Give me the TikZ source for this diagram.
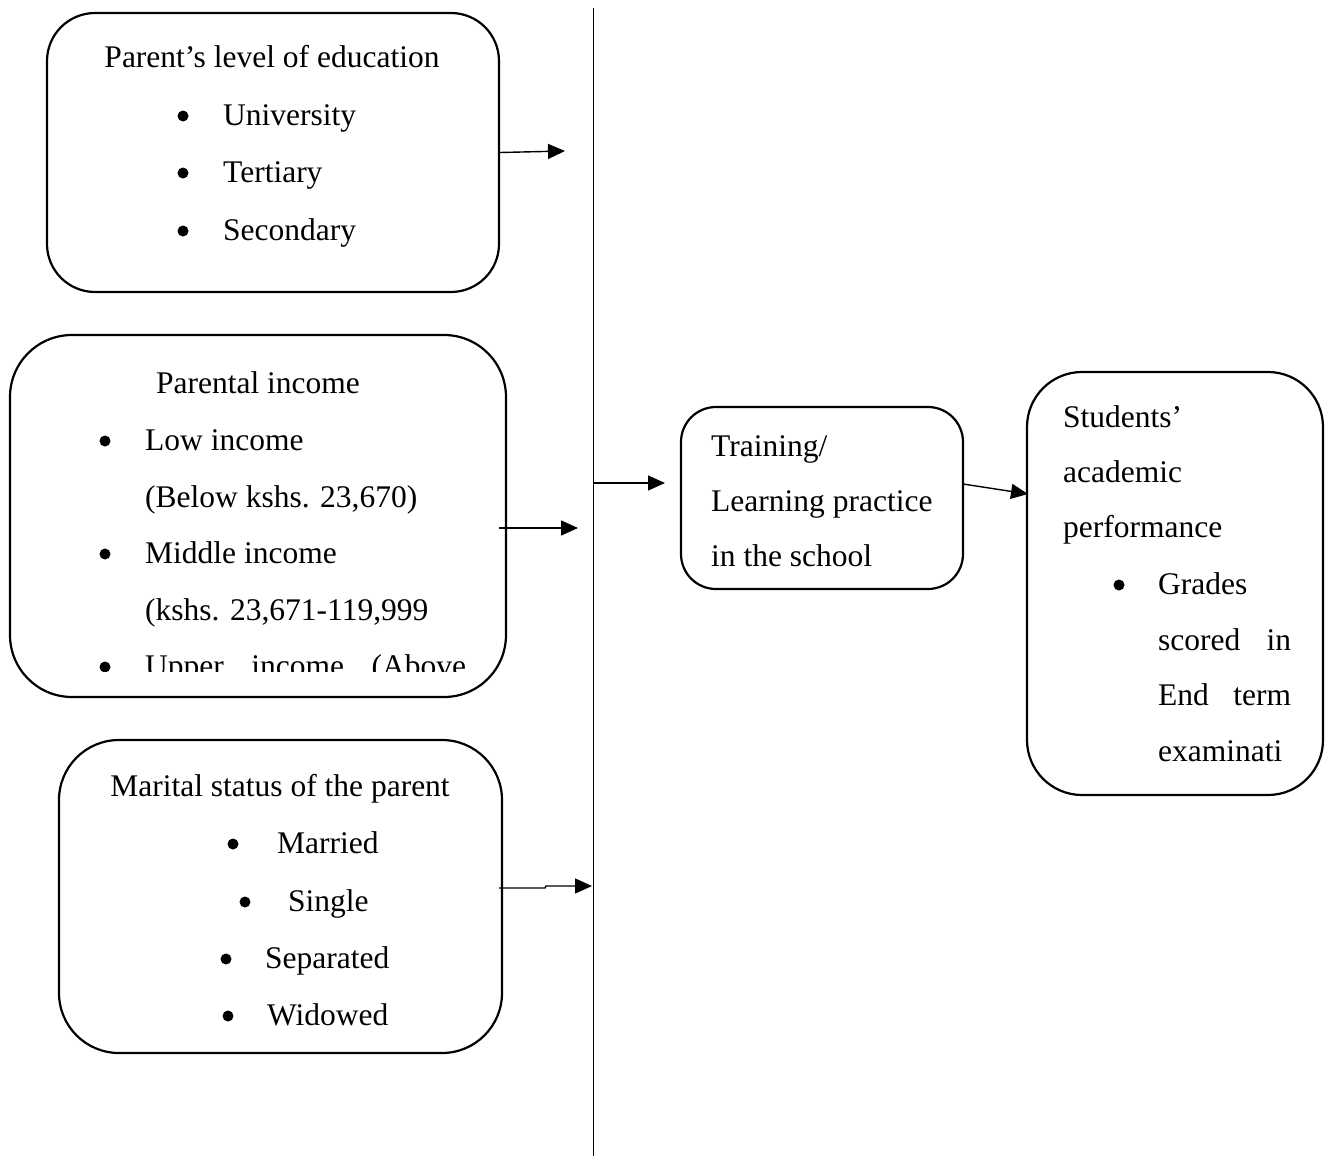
\documentclass[tikz,border=0pt]{standalone}
\usepackage{fontspec}
\setmainfont{Liberation Serif}
\usetikzlibrary{arrows.meta,calc}
\begin{document}
\begin{tikzpicture}[x=1pt,y=-1pt,
  box/.style={draw,line width=2.2pt,rounded corners=#1,inner sep=0pt},
  txt/.style={anchor=base west,inner sep=0pt,font=\fontsize{31.5}{38}\selectfont},
  ctxt/.style={anchor=base,inner sep=0pt,font=\fontsize{31.5}{38}\selectfont},
  dot/.style={circle,fill,inner sep=0pt,minimum size=11pt},
  arr/.style={line width=1.4pt,-{Triangle[length=17pt,width=15pt]}}]
\useasboundingbox (0,0) rectangle (1326,1156);
% vertical divider
\coordinate (vtop) at (593,8);
\coordinate (vbot) at (593,1156);
\draw[line width=1pt] (vtop) -- (vbot);
% box 1
\node[box=48pt,minimum width=452pt,minimum height=279pt] (b1) at (273,152.5) {};
\node[ctxt] (t1) at (272,67) {Parent’s level of education};
\node[dot] (u1) at (183,116) {};\node[txt] (u1t) at (223,125) {University};
\node[dot] (u2) at (183,173) {};\node[txt] (u2t) at (223,182) {Tertiary};
\node[dot] (u3) at (183,231) {};\node[txt] (u3t) at (223,240) {Secondary};
% box 2
\begin{scope}
\clip (10,335) rectangle (506,671);
\node[ctxt] (t2) at (258,393) {Parental income};
\node[dot] (p1) at (105,441) {};\node[txt] (p1t) at (145,450) {Low income};
\node[txt] (p1b) at (145,507) {(Below kshs. 23,670)};
\node[dot] (p2) at (105,554) {};\node[txt] (p2t) at (145,563) {Middle income};
\node[txt] (p2b) at (145,620) {(kshs. 23,671-119,999};
\node[dot] (p3) at (105,667) {};\node[txt] (p3t) at (145,676) {\makebox[321pt][s]{Upper income (Above}};
\end{scope}
\node[box=62pt,minimum width=496pt,minimum height=362pt] (b2) at (258,516) {};
% box 3
\node[box=60pt,minimum width=443pt,minimum height=313pt] (b3) at (280.5,896.5) {};
\node[ctxt] (t3) at (280,796) {Marital status of the parent};
\node[dot] (m1) at (233,844) {};\node[txt] (m1t) at (277,853) {Married};
\node[dot] (m2) at (245,902) {};\node[txt] (m2t) at (288,911) {Single};
\node[dot] (m3) at (226,959) {};\node[txt] (m3t) at (265,968) {Separated};
\node[dot] (m4) at (228,1016) {};\node[txt] (m4t) at (267,1025) {Widowed};
% box 4
\node[box=35pt,minimum width=282pt,minimum height=182pt] (b4) at (822,498) {};
\node[txt] (l1) at (711,456) {Training/};
\node[txt] (l2) at (711,511) {Learning practice};
\node[txt] (l3) at (711,566) {in the school};
% box 5
\node[box=55pt,minimum width=296pt,minimum height=423pt] (b5) at (1175,583.5) {};
\node[txt] (s1) at (1063,427) {Students’};
\node[txt] (s2) at (1063,482) {academic};
\node[txt] (s3) at (1063,537) {performance};
\node[dot] (g0) at (1119,585) {};
\node[txt] (g1) at (1158,594) {Grades};
\node[txt] (g2) at (1158,650) {\makebox[133pt][s]{scored in}};
\node[txt] (g3) at (1158,705) {\makebox[133pt][s]{End term}};
\node[txt] (g4) at (1158,761) {examinati};
% arrows
\coordinate (a1) at (565,151);
\draw[arr] (b1.east) -- (a1);
\coordinate (a2s) at (499,528);
\coordinate (a2) at (578,528);
\draw[arr] (a2s) -- (a2);
\coordinate (a3s) at (499,888);
\coordinate (a3) at (592,886);
\draw[arr] (a3s) -- (545,888) -- (546,886) -- (a3);
\coordinate (a4s) at (593,483);
\coordinate (a4) at (665,483);
\draw[arr] (a4s) -- (a4);
\coordinate (a5s) at (963,484);
\coordinate (a5) at (1028,494);
\draw[arr] (a5s) -- (a5);
\end{tikzpicture}
\end{document}
